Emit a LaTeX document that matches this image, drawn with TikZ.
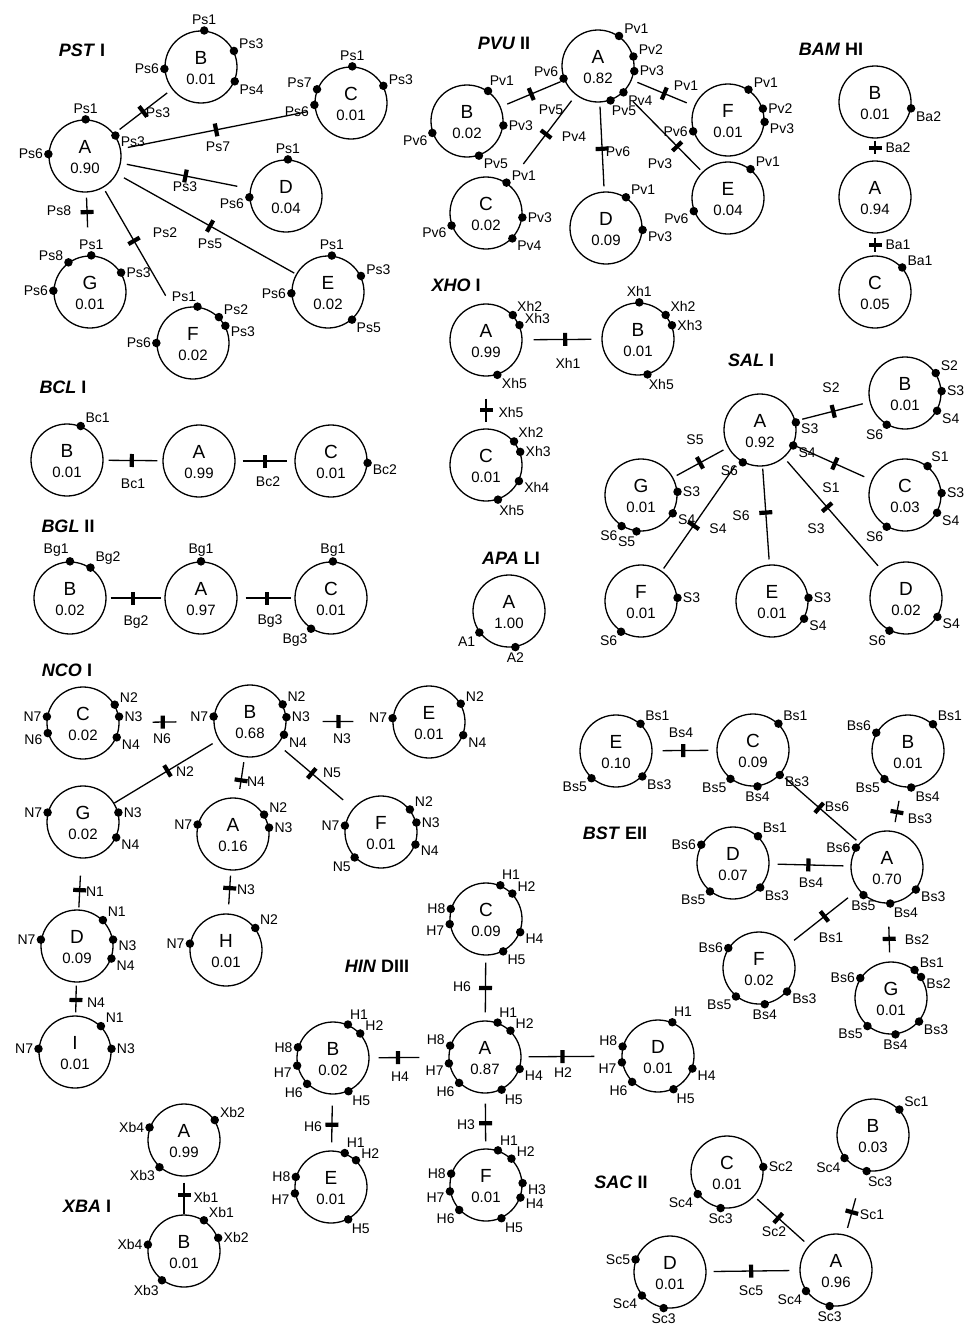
\documentclass[tikz,border=0pt]{standalone}
\usepackage{fontspec}
\setmainfont{Liberation Sans}
\tikzset{
 cir/.style={circle, draw, line width=1.3pt, minimum size=72pt, inner sep=0pt},
 ltr/.style={inner sep=0pt, font=\fontsize{19}{19}\selectfont},
 valn/.style={inner sep=0pt, font=\fontsize{15}{15}\selectfont},
 dotn/.style={circle, fill, minimum size=8.5pt, inner sep=0pt},
 lbl/.style={inner sep=0.8pt, font=\fontsize{14}{14}\selectfont},
 con/.style={line width=1.3pt},
 tk/.style={sloped, rectangle, fill, minimum width=4.2pt, minimum height=13pt, inner sep=0pt},
 ttl/.style={inner sep=0pt, font=\fontsize{18}{18}\selectfont\bfseries},
}
\newcommand\mkcir[4]{%
 \node[cir] (#1) at #2 {};
 \node[ltr] (#1-l) at ([yshift=9.5pt]#1.center) {#3};
 \node[valn] (#1-v) at ([yshift=-12.5pt]#1.center) {#4};}
\newcommand\mkdot[4]{\node[dotn, label={[lbl]#3:#4}] (#1-#4) at (#1.#2) {};}
\begin{document}
\begin{tikzpicture}[x=1pt, y=-1pt]
\fill[white] (0,0) rectangle (964,1325);
\useasboundingbox (0,0) rectangle (964,1325);

% ---------- titles
\node[ttl] (tPST) at (82,50) {\itshape PST\/ \upshape I};
\node[ttl] (tPVU) at (504,43) {\itshape PVU\/ \upshape II};
\node[ttl] (tBAM) at (831,49) {\itshape BAM\/ \upshape HI};
\node[ttl] (tXHO) at (456,285) {\itshape XHO\/ \upshape I};
\node[ttl] (tAPA) at (511,558) {\itshape APA\/ \upshape LI};
\node[ttl] (tSAL) at (751,360) {\itshape SAL\/ \upshape I};
\node[ttl] (tBCL) at (63,387) {\itshape BCL\/ \upshape I};
\node[ttl] (tBGL) at (68,526) {\itshape BGL\/ \upshape II};
\node[ttl] (tNCO) at (67,670) {\itshape NCO\/ \upshape I};
\node[ttl] (tHIN) at (377,966) {\itshape HIN\/ \upshape DIII};
\node[ttl] (tXBA) at (87,1206) {\itshape XBA\/ \upshape I};
\node[ttl] (tBST) at (615,833) {\itshape BST\/ \upshape EII};
\node[ttl] (tSAC) at (621,1182) {\itshape SAC\/ \upshape II};

% ---------- PST I
\mkcir{pstA}{(85,156)}{A}{0.90}
\mkcir{pstB}{(201,67)}{B}{0.01}
\mkcir{pstC}{(351,103)}{C}{0.01}
\mkcir{pstD}{(286,196)}{D}{0.04}
\mkcir{pstE}{(328,292)}{E}{0.02}
\mkcir{pstF}{(193,343)}{F}{0.02}
\mkcir{pstG}{(90,292)}{G}{0.01}
\mkdot{pstA}{89}{90}{Ps1}\mkdot{pstA}{34}{-5}{Ps3}\mkdot{pstA}{177}{180}{Ps6}
\mkdot{pstB}{85}{90}{Ps1}\mkdot{pstB}{26}{15}{Ps3}\mkdot{pstB}{183}{180}{Ps6}\mkdot{pstB}{-23}{-30}{Ps4}
\mkdot{pstC}{88}{90}{Ps1}\mkdot{pstC}{28}{5}{Ps3}\mkdot{pstC}{158}{175}{Ps7}\mkdot{pstC}{183}{185}{Ps6}
\mkdot{pstD}{87}{90}{Ps1}\mkdot{pstD}{182}{190}{Ps6}
\mkdot{pstE}{84}{90}{Ps1}\mkdot{pstE}{26}{5}{Ps3}\mkdot{pstE}{182}{180}{Ps6}\mkdot{pstE}{-49}{-35}{Ps5}
\mkdot{pstF}{83}{95}{Ps1}\mkdot{pstF}{45}{25}{Ps2}\mkdot{pstF}{28}{-5}{Ps3}\mkdot{pstF}{180}{180}{Ps6}
\mkdot{pstG}{88}{90}{Ps1}\mkdot{pstG}{126}{170}{Ps8}\mkdot{pstG}{32}{0}{Ps3}\mkdot{pstG}{178}{180}{Ps6}
\draw[con, shorten <=7pt, shorten >=6pt] (pstA) -- node[tk, pos=0.50] (pstAB-t) {} (pstB);
\draw[con, shorten <=7pt, shorten >=8pt] (pstA) -- node[tk, pos=0.49] (pstAC-t) {} (pstC);
\draw[con, shorten <=6pt, shorten >=13pt] (pstA) -- node[tk, pos=0.50] (pstAD-t) {} (pstD);
\draw[con, shorten <=8pt, shorten >=2pt] (pstA) -- node[tk, pos=0.52] (pstAE-t) {} (pstE);
\draw[con, shorten <=4pt, shorten >=18pt] (pstA) -- node[tk, pos=0.43] (pstAF-t) {} (pstF);
\draw[con, shorten <=5pt, shorten >=28pt] (pstA) -- node[tk, pos=0.31] (pstAG-t) {} (pstG);
\node[lbl] (pstAB-k) at (158,113) {Ps3};
\node[lbl] (pstAC-k) at (218,147) {Ps7};
\node[lbl] (pstAD-k) at (185,187) {Ps3};
\node[lbl] (pstAE-k) at (210,244) {Ps5};
\node[lbl] (pstAF-k) at (165,233) {Ps2};
\node[lbl] (pstAG-k) at (59,211) {Ps8};

% ---------- PVU II
\mkcir{pvuA}{(598,66)}{A}{0.82}
\mkcir{pvuB}{(467,121)}{B}{0.02}
\mkcir{pvuC}{(486,213)}{C}{0.02}
\mkcir{pvuD}{(606,228)}{D}{0.09}
\mkcir{pvuE}{(728,198)}{E}{0.04}
\mkcir{pvuF}{(728,120)}{F}{0.01}
\mkdot{pvuA}{55}{15}{Pv1}\mkdot{pvuA}{15}{10}{Pv2}\mkdot{pvuA}{-8}{0}{Pv3}\mkdot{pvuA}{-46}{-30}{Pv4}\mkdot{pvuA}{-70}{-85}{Pv5}\mkdot{pvuA}{200}{170}{Pv6}
\mkdot{pvuB}{55}{80}{Pv1}\mkdot{pvuB}{-7}{0}{Pv3}\mkdot{pvuB}{199}{205}{Pv6}\mkdot{pvuB}{-71}{-30}{Pv5}
\mkdot{pvuC}{56}{10}{Pv1}\mkdot{pvuC}{-7}{0}{Pv3}\mkdot{pvuC}{200}{200}{Pv6}\mkdot{pvuC}{-44}{-25}{Pv4}
\mkdot{pvuD}{57}{20}{Pv1}\mkdot{pvuD}{-3}{-5}{Pv3}
\mkdot{pvuE}{52}{15}{Pv1}\mkdot{pvuE}{201}{195}{Pv6}
\mkdot{pvuF}{56}{10}{Pv1}\mkdot{pvuF}{18}{0}{Pv2}\mkdot{pvuF}{-3}{-10}{Pv3}\mkdot{pvuF}{198}{180}{Pv6}
\draw[con, shorten <=4pt, shorten >=7pt] (pvuA) -- node[tk, pos=0.52] (pvuAB-t) {} (pvuB);
\draw[con, shorten <=7pt, shorten >=25pt] (pvuA) -- node[tk, pos=0.44] (pvuAC-t) {} (pvuC);
\draw[con, shorten <=4pt, shorten >=5pt] (pvuA) -- node[tk, pos=0.52] (pvuAD-t) {} (pvuD);
\draw[con, shorten <=6pt, shorten >=8pt] (pvuA) -- node[tk, pos=0.52] (pvuAF-t) {} (pvuF);
\draw[con, shorten <=13pt, shorten >=3pt] (pvuA) -- node[tk, pos=0.68] (pvuAE-t) {} (pvuE);
\node[lbl] (pvuAB-k) at (551,110) {Pv5};
\node[lbl] (pvuAC-k) at (574,137) {Pv4};
\node[lbl] (pvuAD-k) at (618,152) {Pv6};
\node[lbl] (pvuAF-k) at (686,86) {Pv1};
\node[lbl] (pvuAE-k) at (660,164) {Pv3};

% ---------- BAM HI
\mkcir{bamB}{(875,102)}{B}{0.01}
\mkcir{bamA}{(875,197)}{A}{0.94}
\mkcir{bamC}{(875,292)}{C}{0.05}
\mkdot{bamB}{-10}{-25}{Ba2}
\mkdot{bamC}{42}{15}{Ba1}
\draw[con, shorten <=2pt, shorten >=6pt] (bamB) -- node[tk, pos=0.43] (bamBA-t) {} (bamA);
\draw[con, shorten <=4pt, shorten >=3pt] (bamA) -- node[tk, pos=0.52] (bamAC-t) {} (bamC);
\node[lbl] (bamBA-k) at (898,148) {Ba2};
\node[lbl] (bamAC-k) at (898,245) {Ba1};

% ---------- XHO I
\mkcir{xhoA}{(486,340)}{A}{0.99}
\mkcir{xhoB}{(638,339)}{B}{0.01}
\mkcir{xhoC}{(486,465)}{C}{0.01}
\mkdot{xhoA}{43}{40}{Xh2}\mkdot{xhoA}{24}{5}{Xh3}\mkdot{xhoA}{-72}{-35}{Xh5}
\mkdot{xhoB}{88}{90}{Xh1}\mkdot{xhoB}{41}{30}{Xh2}\mkdot{xhoB}{22}{0}{Xh3}\mkdot{xhoB}{-75}{-85}{Xh5}
\mkdot{xhoC}{40}{40}{Xh2}\mkdot{xhoC}{21}{0}{Xh3}\mkdot{xhoC}{-26}{-10}{Xh4}\mkdot{xhoC}{-71}{-85}{Xh5}
\draw[con, shorten <=11pt, shorten >=10pt] (xhoA) -- node[tk, pos=0.54] (xhoAB-t) {} (xhoB);
\draw[con, shorten <=22pt, shorten >=6pt] (xhoA) -- node[tk, pos=0.64] (xhoAC-t) {} (xhoC);
\node[lbl] (xhoAB-k) at (568,363) {Xh1};
\node[lbl] (xhoAC-k) at (511,412) {Xh5};

% ---------- APA LI
\mkcir{apaA}{(509,611)}{A}{1.00}
\mkdot{apaA}{216}{225}{A1}\mkdot{apaA}{-80}{-90}{A2}

% ---------- SAL I
\mkcir{salA}{(760,430)}{A}{0.92}
\mkcir{salB}{(905,393)}{B}{0.01}
\mkcir{salC}{(905,495)}{C}{0.03}
\mkcir{salD}{(906,598)}{D}{0.02}
\mkcir{salE}{(772,601)}{E}{0.01}
\mkcir{salF}{(641,601)}{F}{0.01}
\mkcir{salG}{(641,495)}{G}{0.01}
\mkdot{salA}{12}{-10}{S3}\mkdot{salA}{-25}{-15}{S4}\mkdot{salA}{242}{210}{S6}
\mkdot{salB}{33}{25}{S2}\mkdot{salB}{3}{0}{S3}\mkdot{salB}{-29}{-20}{S4}\mkdot{salB}{240}{235}{S6}
\mkdot{salC}{52}{50}{S1}\mkdot{salC}{3}{0}{S3}\mkdot{salC}{-29}{-20}{S4}\mkdot{salC}{240}{235}{S6}
\mkdot{salD}{-31}{-15}{S4}\mkdot{salD}{243}{235}{S6}
\mkdot{salE}{5}{0}{S3}\mkdot{salE}{-29}{-10}{S4}
\mkdot{salF}{5}{0}{S3}\mkdot{salF}{237}{230}{S6}
\mkdot{salG}{5}{0}{S3}\mkdot{salG}{-30}{-5}{S4}\mkdot{salG}{238}{225}{S6}\mkdot{salG}{263}{265}{S5}
\draw[con, shorten <=7pt, shorten >=7pt] (salA) -- node[tk, pos=0.51] (salAB-t) {} (salB);
\draw[con, shorten <=4pt, shorten >=8pt] (salA) -- node[tk, pos=0.53] (salAC-t) {} (salC);
\draw[con, shorten <=5pt, shorten >=4pt] (salA) -- node[tk, pos=0.51] (salAG-t) {} (salG);
\draw[con, shorten <=7pt, shorten >=3pt] (salA) -- node[tk, pos=0.59] (salAF-t) {} (salF);
\draw[con, shorten <=2pt, shorten >=5pt] (salA) -- node[tk, pos=0.47] (salAE-t) {} (salE);
\draw[con, shorten <=5pt, shorten >=6pt] (salA) -- node[tk, pos=0.44] (salAD-t) {} (salD);
\node[lbl] (salAB-k) at (831,388) {S2};
\node[lbl] (salAC-k) at (831,488) {S1};
\node[lbl] (salAG-k) at (695,440) {S5};
\node[lbl] (salAF-k) at (718,529) {S4};
\node[lbl] (salAE-k) at (741,516) {S6};
\node[lbl] (salAD-k) at (816,529) {S3};

% ---------- BCL I
\mkcir{bclB}{(67,460)}{B}{0.01}
\mkcir{bclA}{(199,461)}{A}{0.99}
\mkcir{bclC}{(331,461)}{C}{0.01}
\mkdot{bclB}{68}{30}{Bc1}
\mkdot{bclC}{-3}{-15}{Bc2}
\draw[con, shorten <=5pt, shorten >=5pt] (bclB) -- node[tk, pos=0.48] (bclBA-t) {} (bclA);
\draw[con, shorten <=7pt, shorten >=7pt] (bclA) -- node[tk, pos=0.50] (bclAC-t) {} (bclC);
\node[lbl] (bclBA-k) at (133,484) {Bc1};
\node[lbl] (bclAC-k) at (268,482) {Bc2};

% ---------- BGL II
\mkcir{bglB}{(70,598)}{B}{0.02}
\mkcir{bglA}{(201,598)}{A}{0.97}
\mkcir{bglC}{(331,598)}{C}{0.01}
\mkdot{bglB}{90}{95}{Bg1}\mkdot{bglB}{56}{25}{Bg2}
\mkdot{bglA}{90}{90}{Bg1}
\mkdot{bglC}{87}{90}{Bg1}\mkdot{bglC}{237}{235}{Bg3}
\draw[con, shorten <=4pt, shorten >=3pt] (bglB) -- node[tk, pos=0.46] (bglBA-t) {} (bglA);
\draw[con, shorten <=8pt, shorten >=3pt] (bglA) -- node[tk, pos=0.52] (bglAC-t) {} (bglC);
\node[lbl] (bglBA-k) at (136,622) {Bg2};
\node[lbl] (bglAC-k) at (270,621) {Bg3};

% ---------- NCO I
\mkcir{ncoC}{(83,723)}{C}{0.02}
\mkcir{ncoB}{(250,721)}{B}{0.68}
\mkcir{ncoE}{(429,722)}{E}{0.01}
\mkcir{ncoG}{(83,822)}{G}{0.02}
\mkcir{ncoA}{(233,834)}{A}{0.16}
\mkcir{ncoF}{(381,832)}{F}{0.01}
\mkcir{ncoD}{(77,946)}{D}{0.09}
\mkcir{ncoH}{(226,950)}{H}{0.01}
\mkcir{ncoI}{(75,1052)}{I}{0.01}
\mkdot{ncoC}{30}{20}{N2}\mkdot{ncoC}{10}{0}{N3}\mkdot{ncoC}{-23}{-20}{N4}\mkdot{ncoC}{170}{180}{N7}\mkdot{ncoC}{196}{190}{N6}
\mkdot{ncoB}{27}{30}{N2}\mkdot{ncoB}{6}{0}{N3}\mkdot{ncoB}{-22}{-25}{N4}\mkdot{ncoB}{173}{180}{N7}
\mkdot{ncoE}{30}{20}{N2}\mkdot{ncoE}{-21}{-20}{N4}\mkdot{ncoE}{174}{180}{N7}
\mkdot{ncoG}{165}{180}{N7}\mkdot{ncoG}{15}{0}{N3}\mkdot{ncoG}{-25}{-20}{N4}
\mkdot{ncoA}{165}{180}{N7}\mkdot{ncoA}{32}{20}{N2}\mkdot{ncoA}{10}{0}{N3}
\mkdot{ncoF}{170}{180}{N7}\mkdot{ncoF}{38}{25}{N2}\mkdot{ncoF}{15}{0}{N3}\mkdot{ncoF}{-20}{-10}{N4}\mkdot{ncoF}{224}{230}{N5}
\mkdot{ncoD}{45}{30}{N1}\mkdot{ncoD}{10}{-5}{N3}\mkdot{ncoD}{-20}{-15}{N4}\mkdot{ncoD}{170}{180}{N7}
\mkdot{ncoH}{170}{180}{N7}\mkdot{ncoH}{37}{30}{N2}
\mkdot{ncoI}{45}{30}{N1}\mkdot{ncoI}{5}{0}{N3}\mkdot{ncoI}{175}{180}{N7}
\draw[con, shorten <=33pt, shorten >=37pt] (ncoC) -- node[tk, pos=0.46] (ncoCB-t) {} (ncoB);
\draw[con, shorten <=36pt, shorten >=39pt] (ncoB) -- node[tk, pos=0.49] (ncoBE-t) {} (ncoE);
\draw[con, shorten <=7pt, shorten >=0pt] (ncoB) -- node[tk, pos=0.49] (ncoBG-t) {} (ncoG);
\draw[con, shorten <=5pt, shorten >=9pt] (ncoB) -- node[tk, pos=0.57] (ncoBA-t) {} (ncoA);
\draw[con, shorten <=9pt, shorten >=13pt] (ncoB) -- node[tk, pos=0.45] (ncoBF-t) {} (ncoF);
\draw[con, shorten <=17pt, shorten >=2pt] (ncoG) -- node[tk, pos=0.62] (ncoGD-t) {} (ncoD);
\draw[con, shorten <=5pt, shorten >=9pt] (ncoA) -- node[tk, pos=0.41] (ncoAH-t) {} (ncoH);
\draw[con, shorten <=3pt, shorten >=3pt] (ncoD) -- node[tk, pos=0.53] (ncoDI-t) {} (ncoI);
\node[lbl] (ncoCB-k) at (162,739) {N6};
\node[lbl] (ncoBE-k) at (342,739) {N3};
\node[lbl] (ncoBG-k) at (185,772) {N2};
\node[lbl] (ncoBA-k) at (256,782) {N4};
\node[lbl] (ncoBF-k) at (332,773) {N5};
\node[lbl] (ncoGD-k) at (95,892) {N1};
\node[lbl] (ncoAH-k) at (246,890) {N3};
\node[lbl] (ncoDI-k) at (96,1003) {N4};

% ---------- HIN DIII
\mkcir{hinC}{(486,919)}{C}{0.09}
\mkcir{hinA}{(485,1057)}{A}{0.87}
\mkcir{hinB}{(333,1058)}{B}{0.02}
\mkcir{hinD}{(658,1056)}{D}{0.01}
\mkcir{hinE}{(331,1187)}{E}{0.01}
\mkcir{hinF}{(486,1185)}{F}{0.01}
\mkdot{hinC}{67}{80}{H1}\mkdot{hinC}{44}{20}{H2}\mkdot{hinC}{-21}{-10}{H4}\mkdot{hinC}{-62}{-40}{H5}\mkdot{hinC}{164}{180}{H8}\mkdot{hinC}{188}{185}{H7}
\mkdot{hinA}{70}{80}{H1}\mkdot{hinA}{46}{20}{H2}\mkdot{hinA}{-19}{-15}{H4}\mkdot{hinA}{-63}{-60}{H5}\mkdot{hinA}{162}{175}{H8}\mkdot{hinA}{190}{195}{H7}\mkdot{hinA}{225}{215}{H6}
\mkdot{hinF}{71}{75}{H1}\mkdot{hinF}{46}{15}{H2}\mkdot{hinF}{3}{-5}{H3}\mkdot{hinF}{-20}{-10}{H4}\mkdot{hinF}{-65}{-55}{H5}\mkdot{hinF}{162}{180}{H8}\mkdot{hinF}{190}{190}{H7}\mkdot{hinF}{223}{215}{H6}
\mkdot{hinB}{66}{75}{H1}\mkdot{hinB}{42}{20}{H2}\mkdot{hinB}{-65}{-50}{H5}\mkdot{hinB}{163}{180}{H8}\mkdot{hinB}{192}{190}{H7}\mkdot{hinB}{225}{220}{H6}
\mkdot{hinE}{68}{75}{H1}\mkdot{hinE}{47}{15}{H2}\mkdot{hinE}{-62}{-55}{H5}\mkdot{hinE}{164}{180}{H8}\mkdot{hinE}{190}{190}{H7}
\mkdot{hinD}{67}{80}{H1}\mkdot{hinD}{-20}{-15}{H4}\mkdot{hinD}{-65}{-60}{H5}\mkdot{hinD}{165}{175}{H8}\mkdot{hinD}{190}{190}{H7}\mkdot{hinD}{225}{215}{H6}
\draw[con, shorten <=7pt, shorten >=8pt] (hinC) -- node[tk, pos=0.50] (hinCA-t) {} (hinA);
\draw[con, shorten <=9pt, shorten >=29pt] (hinB) -- node[tk, pos=0.36] (hinBA-t) {} (hinA);
\draw[con, shorten <=7pt, shorten >=27pt] (hinA) -- node[tk, pos=0.41] (hinAD-t) {} (hinD);
\draw[con, shorten <=10pt, shorten >=7pt] (hinA) -- node[tk, pos=0.54] (hinAF-t) {} (hinF);
\draw[con, shorten <=11pt, shorten >=8pt] (hinB) -- node[tk, pos=0.54] (hinBE-t) {} (hinE);
\node[lbl] (hinCA-k) at (462,987) {H6};
\node[lbl] (hinBA-k) at (400,1077) {H4};
\node[lbl] (hinAD-k) at (563,1073) {H2};
\node[lbl] (hinAF-k) at (466,1125) {H3};
\node[lbl] (hinBE-k) at (313,1127) {H6};

% ---------- XBA I
\mkcir{xbaA}{(184,1140)}{A}{0.99}
\mkcir{xbaB}{(184,1251)}{B}{0.01}
\mkdot{xbaA}{160}{180}{Xb4}\mkdot{xbaA}{33}{15}{Xb2}\mkdot{xbaA}{228}{215}{Xb3}
\mkdot{xbaB}{57}{25}{Xb1}\mkdot{xbaB}{21}{0}{Xb2}\mkdot{xbaB}{170}{180}{Xb4}\mkdot{xbaB}{233}{240}{Xb3}
\draw[con, shorten <=6pt, shorten >=0pt] (xbaA) -- node[tk, pos=0.49] (xbaAB-t) {} (xbaB);
\node[lbl] (xbaAB-k) at (206,1197) {Xb1};

% ---------- BST EII
\mkcir{bstE}{(616,751)}{E}{0.10}
\mkcir{bstC}{(753,750)}{C}{0.09}
\mkcir{bstB}{(908,751)}{B}{0.01}
\mkcir{bstA}{(887,867)}{A}{0.70}
\mkcir{bstD}{(733,863)}{D}{0.07}
\mkcir{bstF}{(759,968)}{F}{0.02}
\mkcir{bstG}{(891,998)}{G}{0.01}
\mkdot{bstE}{48}{30}{Bs1}\mkdot{bstE}{-44}{-30}{Bs3}\mkdot{bstE}{228}{215}{Bs5}
\mkdot{bstC}{46}{30}{Bs1}\mkdot{bstC}{-43}{-15}{Bs3}\mkdot{bstC}{-83}{-90}{Bs4}\mkdot{bstC}{232}{225}{Bs5}
\mkdot{bstB}{47}{30}{Bs1}\mkdot{bstB}{150}{165}{Bs6}\mkdot{bstB}{230}{215}{Bs5}\mkdot{bstB}{-85}{-40}{Bs4}
\mkdot{bstA}{148}{180}{Bs6}\mkdot{bstA}{-38}{-15}{Bs3}\mkdot{bstA}{-85}{-55}{Bs4}\mkdot{bstA}{230}{-90}{Bs5}
\mkdot{bstD}{47}{30}{Bs1}\mkdot{bstD}{150}{180}{Bs6}\mkdot{bstD}{231}{215}{Bs5}\mkdot{bstD}{-42}{-35}{Bs3}
\mkdot{bstF}{147}{180}{Bs6}\mkdot{bstF}{231}{215}{Bs5}\mkdot{bstF}{-81}{-90}{Bs4}\mkdot{bstF}{-40}{-20}{Bs3}
\mkdot{bstG}{50}{20}{Bs1}\mkdot{bstG}{35}{-10}{Bs2}\mkdot{bstG}{147}{180}{Bs6}\mkdot{bstG}{230}{210}{Bs5}\mkdot{bstG}{-83}{-90}{Bs4}\mkdot{bstG}{-40}{-30}{Bs3}
\draw[con, shorten <=10pt, shorten >=8pt] (bstE) -- node[tk, pos=0.48] (bstEC-t) {} (bstC);
\draw[con, shorten <=14pt, shorten >=9pt] (bstB) -- node[tk, pos=0.57] (bstBA-t) {} (bstA);
\draw[con, shorten <=6pt, shorten >=4pt] (bstC) -- node[tk, pos=0.49] (bstCA-t) {} (bstA);
\draw[con, shorten <=8pt, shorten >=7pt] (bstD) -- node[tk, pos=0.48] (bstDA-t) {} (bstA);
\draw[con, shorten <=13pt, shorten >=8pt] (bstA) -- node[tk, pos=0.48] (bstAF-t) {} (bstF);
\draw[con, shorten <=23pt, shorten >=9pt] (bstA) -- node[tk, pos=0.61] (bstAG-t) {} (bstG);
\node[lbl] (bstEC-k) at (681,733) {Bs4};
\node[lbl] (bstBA-k) at (920,819) {Bs3};
\node[lbl] (bstCA-k) at (837,807) {Bs6};
\node[lbl] (bstDA-k) at (811,883) {Bs4};
\node[lbl] (bstAF-k) at (831,938) {Bs1};
\node[lbl] (bstAG-k) at (917,940) {Bs2};

% ---------- SAC II
\mkcir{sacB}{(873,1135)}{B}{0.03}
\mkcir{sacC}{(727,1172)}{C}{0.01}
\mkcir{sacA}{(836,1270)}{A}{0.96}
\mkcir{sacD}{(670,1272)}{D}{0.01}
\mkdot{sacB}{44}{25}{Sc1}\mkdot{sacB}{219}{225}{Sc4}\mkdot{sacB}{260}{-85}{Sc3}
\mkdot{sacC}{8}{0}{Sc2}\mkdot{sacC}{217}{210}{Sc4}\mkdot{sacC}{260}{270}{Sc3}
\mkdot{sacA}{215}{225}{Sc4}\mkdot{sacA}{260}{270}{Sc3}
\mkdot{sacD}{160}{180}{Sc5}\mkdot{sacD}{220}{210}{Sc4}\mkdot{sacD}{260}{270}{Sc3}
\draw[con, shorten <=4pt, shorten >=6pt] (sacC) -- node[tk, pos=0.44] (sacCA-t) {} (sacA);
\draw[con, shorten <=29pt, shorten >=7pt] (sacB) -- node[tk, pos=0.65] (sacBA-t) {} (sacA);
\draw[con, shorten <=7pt, shorten >=10pt] (sacD) -- node[tk, pos=0.48] (sacDA-t) {} (sacA);
\node[lbl] (sacCA-k) at (774,1232) {Sc2};
\node[lbl] (sacBA-k) at (872,1215) {Sc1};
\node[lbl] (sacDA-k) at (751,1291) {Sc5};
\end{tikzpicture}
\end{document}
